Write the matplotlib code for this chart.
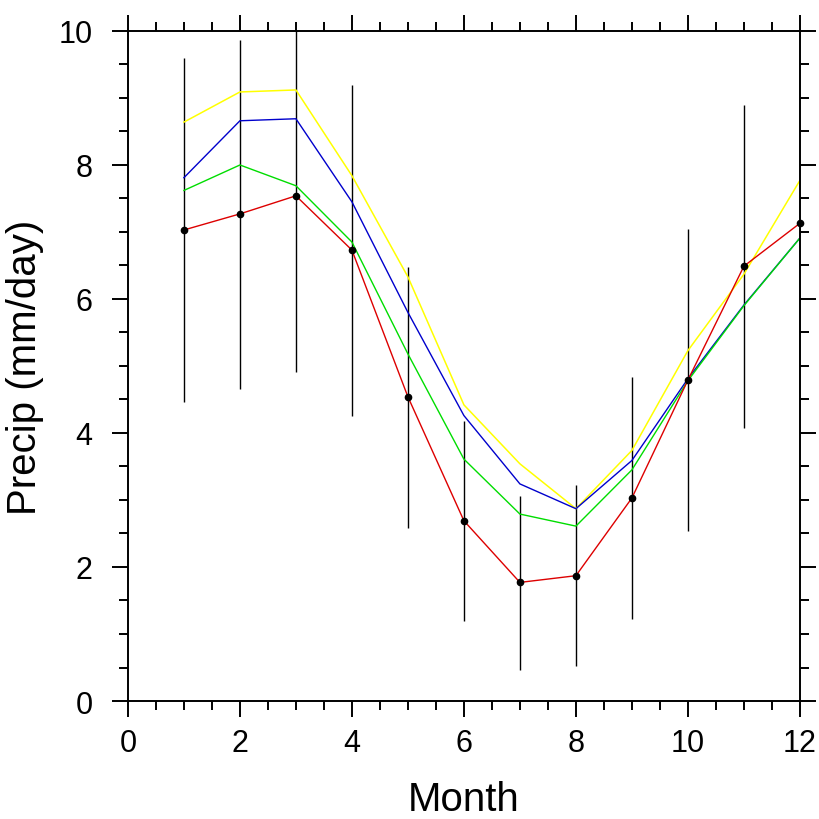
import numpy as np
import matplotlib
matplotlib.use("Agg")
import matplotlib.pyplot as plt
from matplotlib.ticker import MultipleLocator

plt.rcParams['font.family'] = ['Liberation Sans', 'DejaVu Sans']

# monthly climatology (mm/day)
months = [1, 2, 3, 4, 5, 6, 7, 8, 9, 10, 11, 12]
obs = [7.03, 7.27, 7.54, 6.73, 4.54, 2.69, 1.77, 1.87, 3.03, 4.79, 6.49, 7.13]
obs_hi = [9.60, 9.87, 10.15, 9.20, 6.47, 4.18, 3.06, 3.22, 4.83, 7.04, 8.90, 9.60]
obs_lo = [4.47, 4.66, 4.91, 4.25, 2.58, 1.20, 0.47, 0.52, 1.22, 2.53, 4.07, 4.60]
yellow_run = [8.64, 9.09, 9.12, 7.84, 6.33, 4.42, 3.54, 2.87, 3.74, 5.23, 6.37, 7.77]
blue_run = [7.81, 8.66, 8.69, 7.45, 5.80, 4.26, 3.24, 2.87, 3.59, 4.81, 5.91, 6.91]
green_run = [7.62, 8.00, 7.69, 6.85, 5.18, 3.61, 2.79, 2.61, 3.45, 4.78, 5.90, 6.91]

fig = plt.figure(figsize=(8.2, 8.2), dpi=100)
ax = fig.add_axes([0.156, 0.1439, 0.8195, 0.8171])

# error bars
ax.vlines(months, obs_lo, obs_hi, color='black', linewidth=1.0, zorder=1)

ax.plot(months, yellow_run, color='#ffff00', linewidth=1.1, zorder=2)
ax.plot(months, blue_run, color='#0000cc', linewidth=1.0, zorder=2)
ax.plot(months, green_run, color='#00dd00', linewidth=1.0, zorder=2)
ax.plot(months, obs, color='#dd0000', linewidth=1.0, zorder=3)
ax.plot(months, obs, linestyle='none', marker='o', markersize=4.5,
        color='black', zorder=4, clip_on=False)

ax.set_xlim(0, 12)
ax.set_ylim(0, 10)
ax.xaxis.set_major_locator(MultipleLocator(2))
ax.xaxis.set_minor_locator(MultipleLocator(0.5))
ax.yaxis.set_major_locator(MultipleLocator(2))
ax.yaxis.set_minor_locator(MultipleLocator(0.5))

for s in ax.spines.values():
    s.set_linewidth(1.4)
    s.set_zorder(5)

ax.tick_params(which='both', direction='out', top=True, right=True, width=1.4)
ax.tick_params(which='major', length=11.5, labelsize=22)
ax.tick_params(which='minor', length=6.5)
ax.tick_params(axis='y', which='major', pad=14)
ax.tick_params(axis='x', which='major', pad=8)

ax.set_xlabel('Month', fontsize=29, labelpad=16)
ax.set_ylabel('Precip (mm/day)', fontsize=29, labelpad=10)

plt.savefig('out.png', dpi=100)
